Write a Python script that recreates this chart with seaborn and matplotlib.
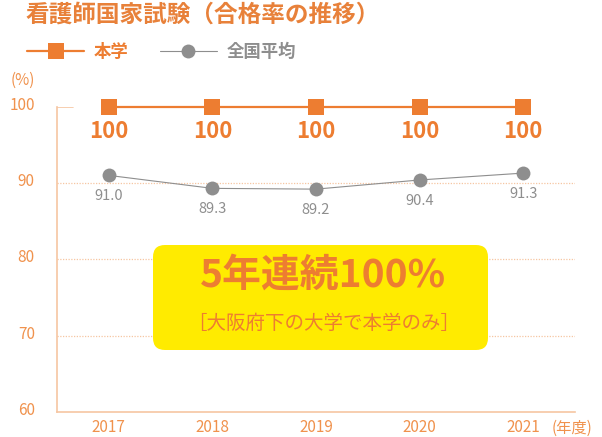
import numpy as np
import pandas as pd
import matplotlib
matplotlib.use('Agg')
import matplotlib.pyplot as plt
import seaborn as sns
from matplotlib.patches import FancyBboxPatch
from matplotlib.transforms import ScaledTranslation

# Data
years = ['2017', '2018', '2019', '2020', '2021']
school_rate = [100, 100, 100, 100, 100]
national_rate = [91.0, 89.3, 89.2, 90.4, 91.3]
y_ticks = [60, 70, 80, 90, 100]

df = pd.DataFrame({'year': years, 'school': school_rate, 'national': national_rate})

sns.set_style('white')
plt.rcParams['font.family'] = ['Noto Sans CJK JP', 'DejaVu Sans']

ORANGE = '#ED7D31'
TICK_ORANGE = '#F0924D'
LIGHT = '#F6C6A2'
GRAY = '#8E8E8E'
YELLOW = '#FFEB00'

fig = plt.figure(figsize=(6.02, 4.37), dpi=100)
ax = fig.add_axes([57 / 602, 1 - 412 / 437, 518 / 602, 305.3 / 437])

sns.lineplot(data=df, x='year', y='school', ax=ax, color=ORANGE, linewidth=1.6,
             marker='s', markersize=11, markeredgewidth=0, label='本学', zorder=4, clip_on=False)
sns.lineplot(data=df, x='year', y='national', ax=ax, color=GRAY, linewidth=0.8,
             marker='o', markersize=10, markeredgewidth=0, label='全国平均', zorder=3)

ax.set_xlim(-0.5, 4.5)
ax.set_ylim(60, 100)
ax.set_xlabel('')
ax.set_ylabel('')

# dotted grid lines
for v in y_ticks[1:-1]:
    ax.axhline(v, color=LIGHT, linestyle=(0, (1, 1.2)), linewidth=0.9, zorder=1)
ax.axhline(100, xmin=0, xmax=0.03, color=LIGHT, linewidth=1.2, zorder=1)

for s in ['top', 'right']:
    ax.spines[s].set_visible(False)
for s in ['left', 'bottom']:
    ax.spines[s].set_color(LIGHT)
    ax.spines[s].set_linewidth(1.2)

ax.set_yticks(y_ticks)
ax.set_yticklabels([str(v) for v in y_ticks])
ax.tick_params(axis='y', length=0, pad=16, labelsize=11, labelcolor=TICK_ORANGE)
ax.set_xticks(range(len(years)))
ax.set_xticklabels(years)
ax.tick_params(axis='x', which='major', length=0, pad=5, labelsize=11, labelcolor=TICK_ORANGE)
ax.set_xticks(np.arange(len(years)) + 0.5, minor=True)
ax.tick_params(axis='x', which='minor', direction='in', length=8.6, width=1.2, color=LIGHT)

offset = ScaledTranslation(0, 0.035, fig.dpi_scale_trans)
for lab in ax.get_yticklabels():
    lab.set_transform(lab.get_transform() + offset)

# value labels
for i, v in enumerate(school_rate):
    ax.annotate(f'{v:.0f}', (i, v), xytext=(0, -18.2), textcoords='offset points',
                ha='center', va='center', fontsize=16, fontweight='bold', color=ORANGE)
for i, v in enumerate(national_rate):
    ax.annotate(f'{v:.1f}', (i, v), xytext=(0, -15), textcoords='offset points',
                ha='center', va='center', fontsize=10.5, color=GRAY)

# legend
leg = ax.legend(loc='center left', bbox_to_anchor=(27 / 602, 1 - 52 / 437),
                bbox_transform=fig.transFigure, ncol=2, frameon=False,
                handlelength=3.3, handletextpad=0.55, columnspacing=1.8,
                borderpad=0, borderaxespad=0, numpoints=1,
                prop={'size': 12.5, 'weight': 'bold'})
leg.get_texts()[0].set_color(ORANGE)
leg.get_texts()[1].set_color(GRAY)

# title and unit labels
fig.text(25 / 602, 1 - 15 / 437, '看護師国家試験（合格率の推移）', ha='left', va='center',
         fontsize=17, fontweight='bold', color='#E8813A')
fig.text(23 / 602, 1 - 80 / 437, '(%)', ha='center', va='center', fontsize=11, color=TICK_ORANGE)
fig.text(552 / 602, 1 - 428 / 437, '(年度)', ha='left', va='center', fontsize=11, color=TICK_ORANGE)

# highlight box
box = FancyBboxPatch((1.53, 0.87), 3.35, 1.05, boxstyle='round,pad=0,rounding_size=0.12',
                     transform=fig.dpi_scale_trans, facecolor=YELLOW, edgecolor='none',
                     zorder=6, clip_on=False)
ax.add_patch(box)
fig.text(323 / 602, 1 - 275 / 437, '5年連続100%', ha='center', va='center',
         fontsize=28, fontweight='bold', color=ORANGE, zorder=7)
fig.text(324 / 602, 1 - 323 / 437, '［大阪府下の大学で本学のみ］', ha='center', va='center',
         fontsize=14, color=ORANGE, zorder=7)

fig.savefig('out.png', dpi=100)
